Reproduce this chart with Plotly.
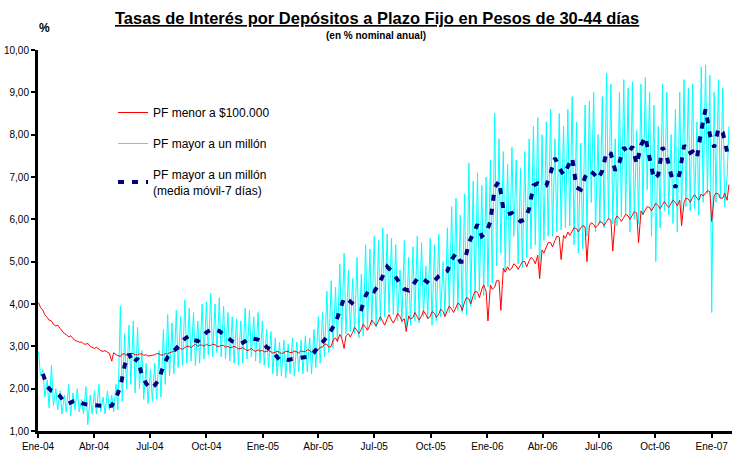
import pandas as pd
import plotly.graph_objects as go

# ---------------- data ----------------
# Weekly samples; two observations per week (start of week, mid week)
START = "2004-01-02"

red_2004 = [4.03,3.92, 3.85,3.75, 3.68,3.62, 3.60,3.52, 3.48,3.50, 3.42,3.36, 3.30,3.28, 3.22,3.25,
            3.18,3.14, 3.12,3.10, 3.10,3.06, 3.05,3.07, 3.00,2.97, 2.95,2.98, 2.93,2.90, 2.88,2.90,
            2.86,2.84, 2.65,2.85, 2.80,2.78, 2.76,2.82, 2.82,2.79, 2.80,2.83, 2.83,2.80, 2.80,2.82,
            2.82,2.79, 2.80,2.77, 2.78,2.80, 2.80,2.83, 2.82,2.79, 2.80,2.83, 2.82,2.85, 2.86,2.88,
            2.90,2.92, 2.95,2.93, 2.98,3.00, 3.00,2.97, 3.02,3.05, 3.00,3.03, 3.03,3.00, 3.05,3.02,
            3.02,3.05, 3.04,3.00, 3.00,3.02, 3.02,2.98, 3.00,2.97, 2.98,3.00, 2.97,2.94, 2.95,2.97,
            2.93,2.90, 2.92,2.95, 2.90,2.88, 2.92,2.89]
red_2005 = [2.90,2.87, 2.88,2.90, 2.87,2.84, 2.86,2.88, 2.86,2.83, 2.85,2.88, 2.88,2.85, 2.86,2.89,
            2.87,2.84, 2.90,2.87, 2.88,2.92, 2.90,2.86, 2.93,2.88, 2.92,2.98, 2.98,3.05, 3.05,2.98,
            3.00,3.15, 3.20,3.12, 3.28,3.20, 2.95,3.25, 3.30,3.22, 3.33,3.45, 3.38,3.30, 3.40,3.52,
            3.45,3.38, 3.50,3.62, 3.55,3.48, 3.60,3.70, 3.58,3.50, 3.65,3.75, 3.62,3.55, 3.66,3.78,
            3.70,3.60, 3.65,3.35, 3.72,3.64, 3.68,3.80, 3.70,3.62, 3.72,3.84, 3.75,3.66, 3.70,3.82,
            3.78,3.68, 3.76,3.88, 3.82,3.70, 3.85,3.95, 3.88,3.80, 3.92,4.02, 3.98,3.85, 4.05,4.15,
            4.12,4.00, 4.20,4.30, 4.28,4.15, 4.35,4.45]
red_2006 = [4.30,3.60, 4.45,4.35, 4.40,4.55, 4.55,3.85, 4.85,4.75, 4.88,4.80, 4.85,4.95, 4.90,4.82,
            4.92,5.00, 5.00,4.88, 5.02,5.10, 5.05,4.95, 5.15,4.60, 5.28,5.20, 5.35,5.45, 5.45,5.35,
            5.50,5.60, 5.58,5.05, 5.62,5.55, 5.70,5.62, 5.72,5.80, 5.78,5.70, 5.80,5.85, 5.82,5.00,
            5.85,5.92, 5.88,5.80, 5.86,5.95, 5.92,5.85, 5.95,6.02, 5.98,5.25, 6.00,6.08, 6.02,5.95,
            6.05,6.12, 6.08,6.00, 6.10,6.18, 6.15,5.45, 6.20,6.12, 6.22,6.30, 6.28,6.20, 6.30,6.38,
            6.32,6.25, 6.35,6.42, 6.33,6.28, 6.38,6.45, 6.40,6.32, 6.45,5.85, 6.40,6.50, 6.48,6.40,
            6.52,6.58, 6.50,6.45, 6.60,6.55, 6.62,6.68]
red_2007 = [6.65,5.95, 6.55,6.62, 6.60,6.50, 6.50,6.62, 6.45,6.82]

cyan_2004 = [2.87,2.30, 2.45,1.80, 2.20,1.55, 2.55,1.60, 2.00,1.50, 1.95,1.40, 1.85,1.45, 2.10,1.35,
             1.90,1.50, 2.00,1.45, 1.75,1.40, 2.05,1.15, 1.85,1.40, 1.95,1.40, 2.10,1.45, 1.80,1.40,
             1.95,1.50, 1.85,1.45, 2.10,1.50, 3.95,1.70, 3.30,2.00, 3.50,2.10, 3.60,1.90, 3.45,2.00,
             2.90,1.75, 2.60,1.65, 2.45,1.70, 2.60,1.75, 2.90,1.80, 3.40,2.10, 3.75,2.30, 3.55,2.35,
             3.85,2.50, 3.70,2.55, 4.10,2.60, 3.90,2.65, 3.80,2.55, 3.60,2.60, 4.00,2.70, 4.05,2.80,
             4.25,2.75, 4.00,2.85, 4.15,2.75, 3.95,2.70, 3.80,2.65, 3.70,2.60, 3.65,2.55, 3.60,2.60,
             3.90,2.70, 3.85,2.75, 3.70,2.65, 3.80,2.60]
cyan_2005 = [3.60,2.55, 3.40,2.50, 3.35,2.35, 3.20,2.30, 3.10,2.30, 3.15,2.25, 3.05,2.35, 3.20,2.30,
             3.10,2.40, 3.15,2.35, 3.25,2.40, 3.20,2.35, 3.40,2.50, 3.70,2.60, 3.80,2.75, 4.30,2.85,
             4.55,2.95, 4.40,3.10, 4.95,3.20, 5.20,3.30, 4.80,3.35, 4.60,3.30, 5.10,3.20, 4.70,3.25,
             5.40,3.40, 5.30,3.50, 5.60,3.45, 5.50,3.60, 5.80,3.70, 5.65,3.80, 5.55,3.75, 5.40,3.60,
             4.80,3.55, 5.50,3.45, 5.10,3.50, 5.35,3.60, 5.60,3.55, 5.45,3.70, 4.90,3.65, 5.55,3.50,
             5.40,3.60, 5.65,3.70, 5.00,3.75, 5.80,3.80, 6.30,3.90, 6.50,3.85, 6.10,3.80, 6.60,3.75,
             7.33,3.95, 6.90,4.10, 7.10,4.30, 6.80,4.20]
cyan_2006 = [7.00,4.40, 7.40,4.50, 8.50,4.90, 7.90,5.20, 7.60,4.80, 7.30,4.90, 7.70,5.60, 7.40,4.95,
             7.20,4.85, 7.60,5.10, 7.90,5.30, 8.20,5.40, 8.40,4.60, 8.00,5.50, 8.30,5.60, 8.60,5.60,
             7.90,5.70, 8.50,5.75, 8.20,5.80, 8.60,5.85, 8.90,5.40, 8.30,5.20, 7.80,5.30, 8.70,5.60,
             8.80,6.40, 9.00,5.70, 8.00,5.90, 8.90,5.80, 9.45,6.00, 9.20,5.90, 7.90,5.85, 9.00,6.05,
             9.30,6.10, 9.10,5.70, 9.25,6.00, 8.10,5.90, 9.20,6.10, 9.35,6.70, 9.00,5.60, 8.70,5.00,
             8.20,5.80, 9.20,6.20, 9.00,6.10, 8.00,5.90, 8.60,5.70, 9.00,6.00, 9.30,6.30, 9.10,6.20,
             9.20,6.25, 8.30,6.10, 9.60,6.40, 9.65,6.60]
cyan_2007 = [9.40,3.80, 9.00,6.40, 9.30,6.50, 9.10,6.30, 7.00,8.20]

# 7-day moving average, one value per week
ma_2004 = [None, 2.35,2.05,1.95,1.93,1.82,1.68,1.65,1.70,1.72,1.66,1.63,1.62,1.62,1.60,1.58,1.58,
           1.60,1.78,2.05,2.55,2.82,2.60,2.72,2.32,2.12,2.00,2.08,2.22,2.55,2.75,2.84,2.95,3.05,
           3.18,3.25,3.15,3.12,3.23,3.33,3.39,3.40,3.36,3.28,3.22,3.12,3.08,3.06,3.12,3.20,3.18,3.16]
ma_2005 = [3.10,2.98,2.92,2.78,2.68,2.70,2.68,2.70,2.72,2.73,2.75,2.76,2.85,3.00,3.10,3.22,3.38,
           3.55,3.85,4.15,4.10,4.00,3.92,3.88,4.20,4.37,4.30,4.45,4.68,4.88,4.78,4.62,4.48,4.35,
           4.32,4.45,4.60,4.62,4.54,4.47,4.55,4.66,4.72,4.78,5.05,5.20,5.00,5.00,5.45,5.68,5.88,5.60]
ma_2006 = [5.68,5.95,6.75,6.90,6.25,6.12,6.15,6.05,5.95,6.00,6.25,6.80,6.85,6.77,6.80,7.10,7.45,
           7.22,7.05,7.25,7.45,6.75,6.70,7.00,7.15,7.08,6.95,7.15,7.60,7.55,7.15,7.35,7.70,7.55,
           7.72,7.30,7.75,7.95,7.50,6.95,7.05,7.70,7.48,7.05,6.75,7.10,7.75,7.55,7.60,7.45,8.10,8.60]
ma_2007 = [8.00,7.70,8.15,8.05,7.60]

tick_dates = ["2004-01-01", "2004-04-01", "2004-07-01", "2004-10-01", "2005-01-01", "2005-04-01",
              "2005-07-01", "2005-10-01", "2006-01-01", "2006-04-01", "2006-07-01", "2006-10-01",
              "2007-01-01"]
tick_labels = ["Ene-04", "Abr-04", "Jul-04", "Oct-04", "Ene-05", "Abr-05", "Jul-05", "Oct-05",
               "Ene-06", "Abr-06", "Jul-06", "Oct-06", "Ene-07"]

# ---------------- build ----------------
red = red_2004 + red_2005 + red_2006 + red_2007
cyan = cyan_2004 + cyan_2005 + cyan_2006 + cyan_2007
ma = ma_2004 + ma_2005 + ma_2006 + ma_2007

start = pd.Timestamp(START)
def half_week_dates(n):
    return [start + pd.Timedelta(days=7 * (i // 2) + (3 if i % 2 else 0)) for i in range(n)]

x_red = half_week_dates(len(red))
x_cyan = half_week_dates(len(cyan))
x_ma = [start + pd.Timedelta(days=7 * i) for i in range(len(ma))]

FONT = "Arial, Liberation Sans, sans-serif"

fig = go.Figure()
fig.add_trace(go.Scatter(x=x_cyan, y=cyan, mode="lines", name="PF mayor a un millón",
                         line=dict(color="#00FFFF", width=1), legendgroup="b", legendrank=2))
fig.add_trace(go.Scatter(x=x_red, y=red, mode="lines", name="PF menor a $100.000",
                         line=dict(color="#FF0000", width=1), legendgroup="a", legendrank=1))
fig.add_trace(go.Scatter(x=x_ma, y=ma, mode="lines",
                         name="PF mayor a un millón<br>(media móvil-7 días)",
                         line=dict(color="#000080", width=4, dash="6px,8px"),
                         legendgroup="c", legendrank=3))

L, R, T, B = 38, 7, 50, 21
W, H = 739, 452
pw, ph = W - L - R, H - T - B
def px(x):
    return (x - L) / pw
def py(y):
    return (H - B - y) / ph

fig.update_layout(
    width=W, height=H,
    margin=dict(l=L, r=R, t=T, b=B, autoexpand=False),
    paper_bgcolor="white", plot_bgcolor="white",
    font=dict(family=FONT, size=10, color="black"),
    separators=",.",
    showlegend=True,
    legend=dict(x=px(113), y=py(98), xanchor="left", yanchor="top",
                bgcolor="rgba(0,0,0,0)", font=dict(size=12, family=FONT),
                tracegroupgap=12, itemwidth=30),
    xaxis=dict(type="date", range=["2004-01-01", "2007-02-03"],
               tickmode="array", tickvals=tick_dates, ticktext=tick_labels,
               showgrid=False, zeroline=False, showline=True, linecolor="black", linewidth=3,
               ticks="outside", ticklen=4, tickwidth=2, tickcolor="black",
               tickfont=dict(size=10), fixedrange=True),
    yaxis=dict(range=[1, 10], dtick=1, tick0=1, tickformat=".2f",
               showgrid=False, zeroline=False, showline=True, linecolor="black", linewidth=3,
               ticks="outside", ticklen=4, tickwidth=2, tickcolor="black",
               tickfont=dict(size=10), fixedrange=True),
    annotations=[
        dict(text="<b><u>Tasas de Interés por Depósitos a Plazo Fijo en Pesos de 30-44 días</u></b>",
             xref="paper", yref="paper", x=px(377), y=py(18), xanchor="center", yanchor="middle",
             showarrow=False, font=dict(size=16.5, family=FONT)),
        dict(text="<b>(en % nominal anual)</b>", xref="paper", yref="paper",
             x=px(376), y=py(36), xanchor="center", yanchor="middle",
             showarrow=False, font=dict(size=10, family=FONT)),
        dict(text="<b>%</b>", xref="paper", yref="paper", x=px(44), y=py(28),
             xanchor="center", yanchor="middle", showarrow=False, font=dict(size=12, family=FONT)),
    ],
)

fig.write_html("out.html", config={"displayModeBar": False},
               post_script="document.body.style.margin='0px';")
